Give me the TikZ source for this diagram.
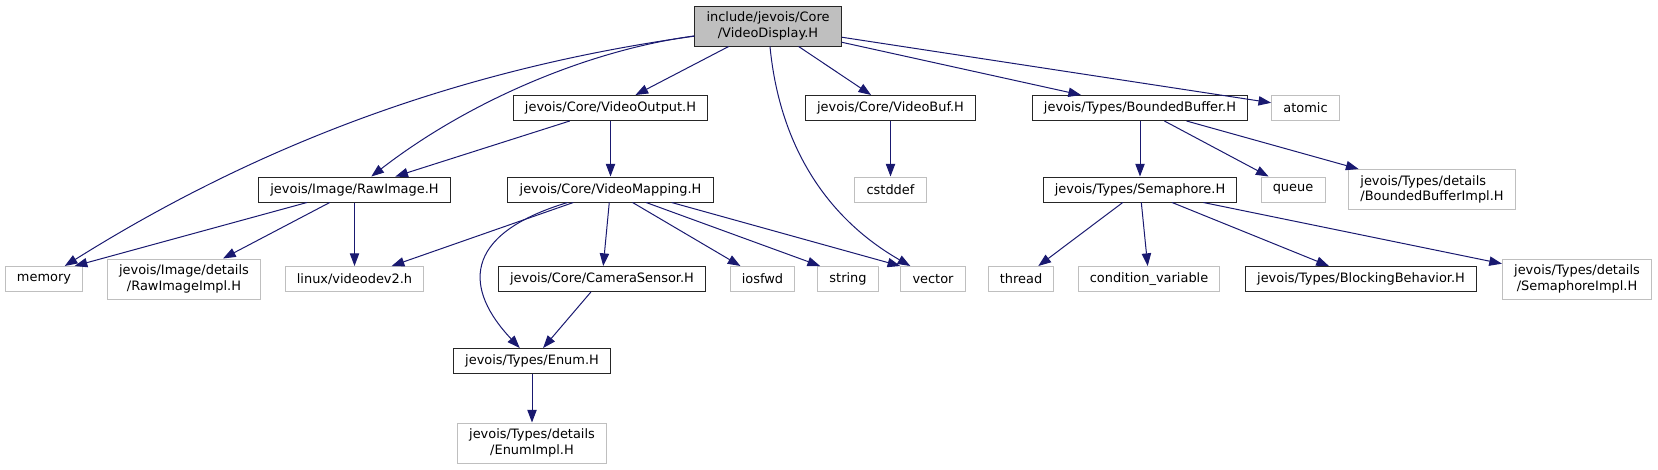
\documentclass[tikz,border=0pt]{standalone}
\usepackage{fontspec}
\setmainfont{DejaVu Sans}
\usepackage{xcolor}
\usepackage{tikz}
\usetikzlibrary{arrows.meta}

\definecolor{edgeblue}{HTML}{191970}
\definecolor{extgray}{HTML}{BFBFBF}

\begin{document}
\begin{tikzpicture}[
    x=0.75pt, y=-0.75pt,
    b1/.style={rectangle, draw=black!85, line width=0.75pt, align=center, inner xsep=8.8pt, inner ysep=2pt, minimum height=18.75pt, font=\fontsize{9.7}{11.5}\selectfont},
    b0/.style={b1, fill=extgray, minimum height=30pt},
    b2/.style={b1, draw=extgray},
    b3/.style={b2, minimum height=30pt},
    arr/.style={-{Triangle[length=9.5pt, width=7pt]}, line width=0.75pt, draw=edgeblue}
]
    \useasboundingbox (0,0) rectangle (1658,469);

    % top level
    \node [b0] (root) at (768,26) {include/jevois/Core\\/VideoDisplay.H};

    \node [b1] (vout) at (610.5,108) {jevois/Core/VideoOutput.H};
    \node [b1] (vbuf) at (890.5,108) {jevois/Core/VideoBuf.H};
    \node [b1] (bbuf) at (1140,108) {jevois/Types/BoundedBuffer.H};
    \node [b2] (atomic) at (1305.5,108) {atomic};

    \node [b1] (rawimg) at (354.5,189.5) {jevois/Image/RawImage.H};
    \node [b1] (vmap) at (610.5,189.5) {jevois/Core/VideoMapping.H};
    \node [b2] (cstddef) at (890.5,189.5) {cstddef};
    \node [b1] (sema) at (1140,189.5) {jevois/Types/Semaphore.H};
    \node [b2] (queue) at (1293,189.5) {queue};
    \node [b3, align=left] (bbimpl) at (1432,189.5) {jevois/Types/details\\/BoundedBufferImpl.H};

    \node [b2] (memory) at (44,279) {memory};
    \node [b3] (riimpl) at (184,279) {jevois/Image/details\\/RawImageImpl.H};
    \node [b2] (vdev) at (354.5,279) {linux/videodev2.h};
    \node [b1] (camsens) at (602,279) {jevois/Core/CameraSensor.H};
    \node [b2] (iosfwd) at (762.5,279) {iosfwd};
    \node [b2] (string) at (848,279) {string};
    \node [b2] (vector) at (933,279) {vector};
    \node [b2] (thread) at (1021,279) {thread};
    \node [b2] (condvar) at (1149,279) {condition\_variable};
    \node [b1] (blocking) at (1361,279) {jevois/Types/BlockingBehavior.H};
    \node [b3] (semimpl) at (1577,279) {jevois/Types/details\\/SemaphoreImpl.H};

    \node [b1] (enum) at (532,361) {jevois/Types/Enum.H};
    \node [b3] (enumimpl) at (532,443) {jevois/Types/details\\/EnumImpl.H};

    % includes of the root file
    \draw [arr] (root) .. controls (450,70) and (250,150) .. (memory);
    \draw [arr] (root) .. controls (590,50) and (470,100) .. (rawimg);
    \draw [arr] (root) -- (vout);
    \draw [arr] (root) .. controls (780,150) and (830,220) .. (vector);
    \draw [arr] (root) -- (vbuf);
    \draw [arr] (root) -- (bbuf);
    \draw [arr] (root) -- (atomic);

    \draw [arr] (vout) -- (rawimg);
    \draw [arr] (vout) -- (vmap);

    \draw [arr] (rawimg) -- (memory.23);
    \draw [arr] (rawimg) -- (riimpl);
    \draw [arr] (rawimg) -- (vdev);

    \draw [arr] (vmap) -- (vdev);
    \draw [arr] (vmap) .. controls (460,235) and (465,290) .. (enum);
    \draw [arr] (vmap) -- (camsens);
    \draw [arr] (vmap) -- (iosfwd);
    \draw [arr] (vmap) -- (string.155);
    \draw [arr] (vmap.-12) -- (vector.north west);

    \draw [arr] (camsens) -- (enum);
    \draw [arr] (enum) -- (enumimpl);

    \draw [arr] (vbuf) -- (cstddef);

    \draw [arr] (bbuf) -- (sema);
    \draw [arr] (bbuf) -- (queue);
    \draw [arr] (bbuf) -- (bbimpl);

    \draw [arr] (sema) -- (thread);
    \draw [arr] (sema) -- (condvar);
    \draw [arr] (sema) -- (blocking);
    \draw [arr] (sema) -- (semimpl);
\end{tikzpicture}
\end{document}
